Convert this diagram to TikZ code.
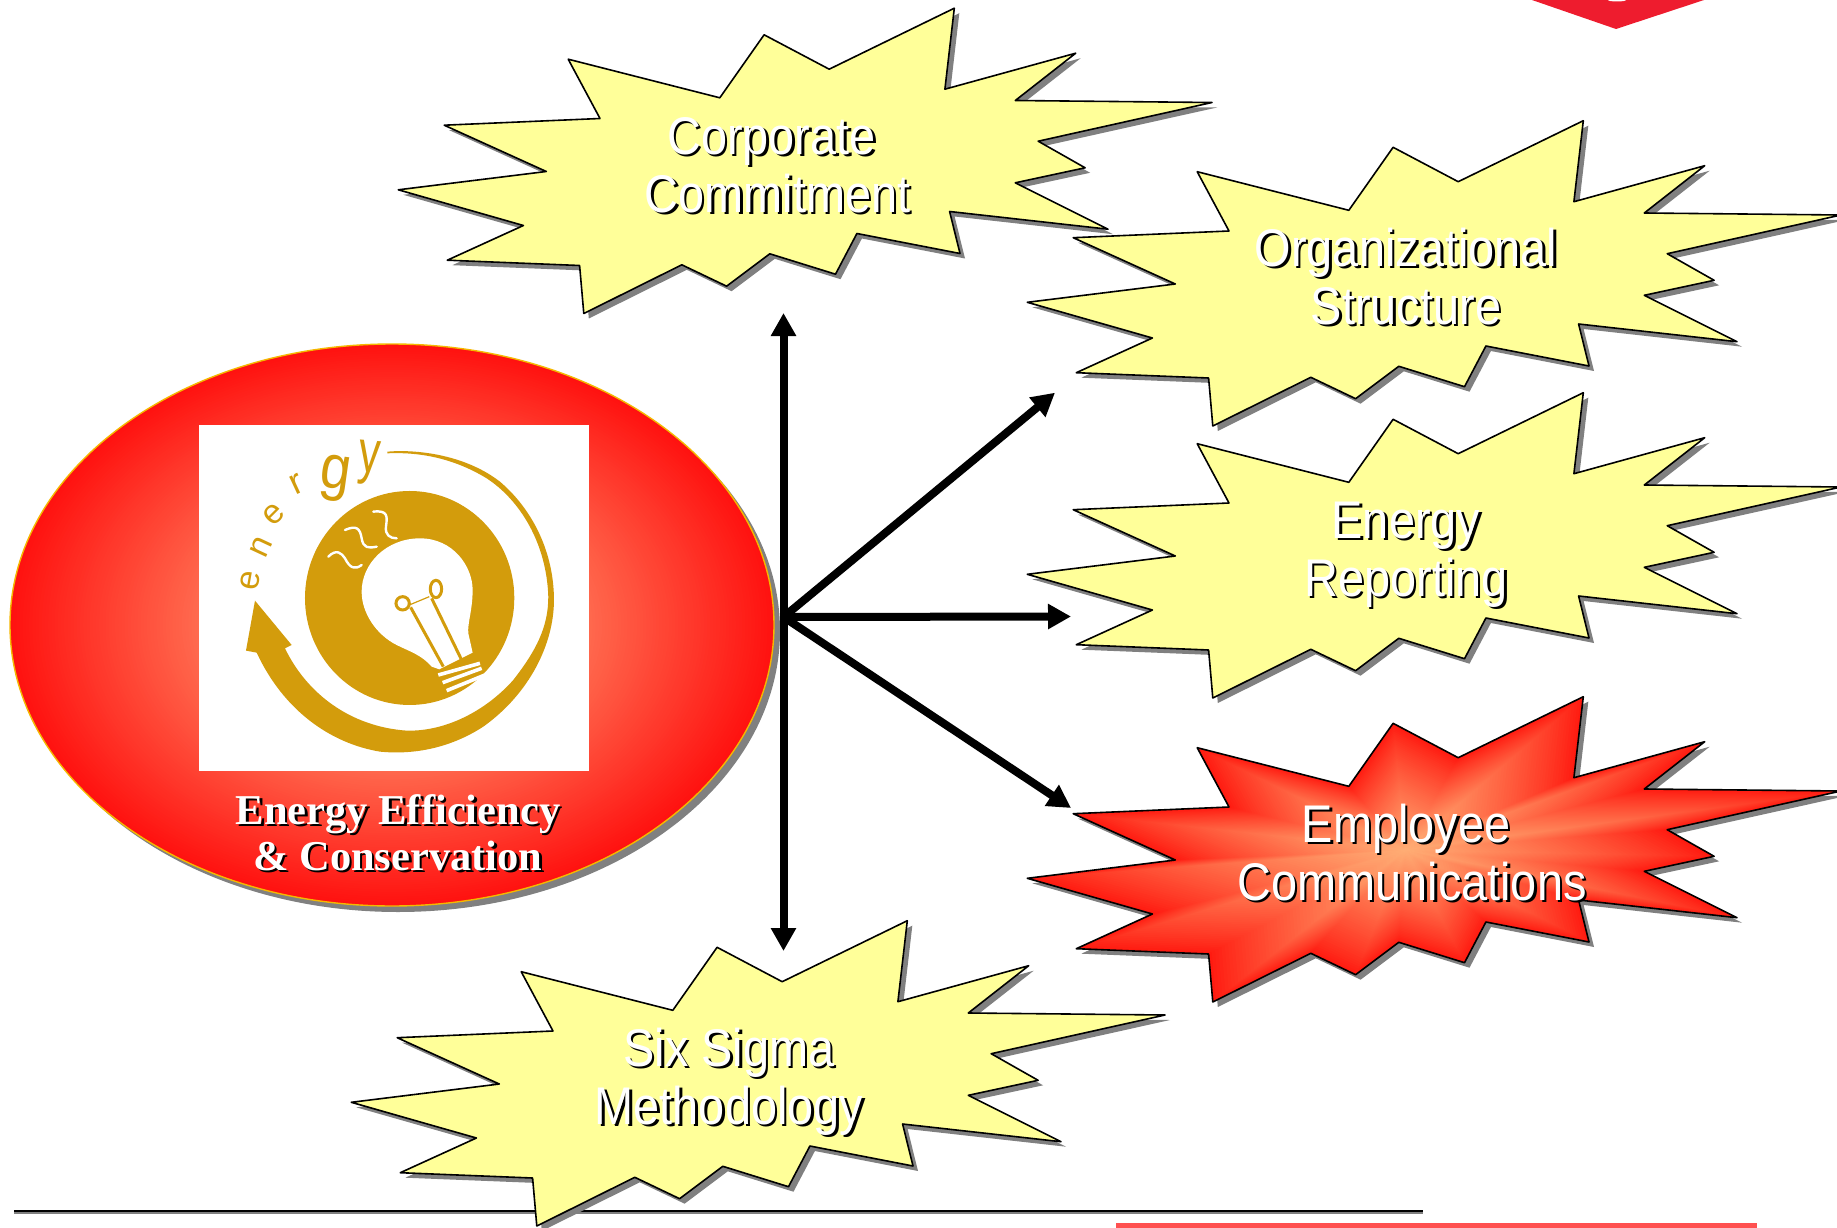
\documentclass[tikz,border=0pt]{standalone}
\usepackage{fontspec}
\setmainfont{Liberation Sans}
\newfontfamily\burstfont[FakeStretch=0.885]{Liberation Sans}
\newfontfamily\titlefont{Liberation Serif}
\newfontfamily\narrowfont[FakeStretch=0.72]{Liberation Sans}
\usetikzlibrary{arrows.meta}
\definecolor{gold}{HTML}{D39C0C}
\definecolor{burstyellow}{HTML}{FFFF99}
\definecolor{shadowgrey}{HTML}{808080}
\definecolor{hotcentre}{HTML}{FFAC74}
\definecolor{hotedge}{HTML}{FF1A10}
\definecolor{glowin}{HTML}{FF6C50}
\definecolor{glowout}{HTML}{FF1210}
\definecolor{ringgold}{HTML}{F5B800}
\definecolor{footred}{HTML}{FF5050}
\definecolor{topred}{HTML}{EE1C2E}
\newcommand\Sh[1]{\leavevmode\rlap{\kern2.5pt\raisebox{-2pt}{\color{black}#1}}#1}
\newcommand\burstoutline{(1583.3,120.7) -- (1573.9,201.7) -- (1704.7,165.7) -- (1644.3,213) -- (1841,215) -- (1667.2,253.7) -- (1714.1,280.3) -- (1644.3,295.3) -- (1737,341.7) -- (1578.6,324) -- (1589,366) -- (1485.9,346) -- (1464.5,386.7) -- (1398.8,366.3) -- (1355.6,398.7) -- (1310.8,377.3) -- (1212.8,426) -- (1208.6,378) -- (1076.3,372.7) -- (1152.4,338) -- (1027.3,302.3) -- (1175.3,284) -- (1073.2,237.7) -- (1229,231) -- (1197.2,171.7) -- (1348.8,210.3) -- (1393.1,147.3) -- (1458.2,181.7) -- cycle}
\tikzset{
  burstline/.style={draw=black,line width=1.6pt,line join=round},
  bursttext/.style={text=white,align=center,anchor=base,inner sep=0pt,font=\burstfont\fontsize{53}{58}\selectfont},
  titletext/.style={text=white,align=center,anchor=base,inner sep=0pt,font=\titlefont\bfseries\fontsize{42.5}{46.5}\selectfont},
  linkarrow/.style={line width=8pt,black,-{Triangle[length=23pt,width=24pt]}},
  logoletter/.style={text=gold,inner sep=0pt},
  heatline/.style={white,line width=2.4pt,line cap=round,line join=round},
  filament/.style={gold,line width=3pt},
  capring/.style={white,line width=3.6pt},
}
\begin{document}
\begin{tikzpicture}[x=1pt,y=-1pt]
\useasboundingbox (0,0) rectangle (1837,1228);
\fill[white] (0,0) rectangle (1837,1228);
% page furniture
\fill[shadowgrey] (14,1212) rectangle (1423,1214);
\fill[black] (14,1210) rectangle (1423,1212);
\fill[footred] (1116,1223) rectangle (1757,1228);
\fill[topred] (1532,0) -- (1616,29) -- (1704,0) -- cycle;
\fill[white] (1617,0) ellipse [x radius=9, y radius=1.5];
% central ellipse
\fill[shadowgrey] (398,631) ellipse [x radius=382, y radius=281];
\foreach \i in {0,...,60}{
  \pgfmathsetmacro\sc{1-0.5*\i/60}
  \pgfmathsetmacro\pc{100*\i/60}
  \fill[glowin!\pc!glowout] (392,625) ellipse [x radius=382*\sc, y radius=281*\sc];
}
\draw[ringgold,line width=1.4pt] (392,625) ellipse [x radius=382, y radius=281];
% logo
\fill[white] (199,425) rectangle (589,771);
\begin{scope}[shift={(180,410)},x=0.3333pt,y=-0.3333pt]
  \fill[gold] (689,564) ellipse [x radius=314, y radius=321];
  % swoosh
  \fill[gold] (622,125) .. controls (700,118) and (850,130) .. (960,215) .. controls (1060,300) and (1122,430) .. (1122,570)
     .. controls (1122,700) and (1050,850) .. (910,950) .. controls (810,1015) and (700,1035) .. (600,1025)
     .. controls (450,1000) and (310,900) .. (230,728) -- (198,722) -- (225,572) -- (335,705) -- (315,715)
     .. controls (380,850) and (510,950) .. (680,962) .. controls (800,965) and (920,900) .. (1000,810)
     .. controls (1070,720) and (1105,650) .. (1105,560) .. controls (1100,400) and (1020,270) .. (920,205)
     .. controls (830,150) and (730,125) .. (622,130) -- cycle;
  % bulb
  \fill[white] (720,385) .. controls (820,385) and (878,470) .. (878,540) .. controls (878,600) and (862,640) .. (865,670)
     -- (878,728) -- (778,778) -- (755,770) .. controls (725,735) and (690,725) .. (650,705)
     .. controls (590,675) and (545,610) .. (545,545) .. controls (545,460) and (620,385) .. (720,385) -- cycle;
  \draw[gold,line width=3.6pt] (785,782) -- (885,745);
  \draw[capring] (775,795) -- (900,760);
  \draw[capring] (788,818) -- (905,775);
  \draw[capring] (800,842) -- (915,795);
  % filament
  \draw[filament] (692,592) -- (790,770);
  \draw[filament] (755,565) -- (845,750);
  \draw[filament] (668,580) circle [radius=20];
  \draw[filament] (768,537) ellipse [x radius=17, y radius=26];
  \draw[gold,line width=1.2pt] (688,585) -- (748,560);
  % heat
  \draw[heatline] (445,440) .. controls (470,415) and (485,430) .. (495,445) .. controls (510,475) and (525,480) .. (545,465);
  \draw[heatline] (495,360) .. controls (530,345) and (540,355) .. (545,385) .. controls (550,415) and (565,415) .. (590,410);
  \draw[heatline] (580,305) .. controls (625,300) and (622,320) .. (618,350) .. controls (615,375) and (630,385) .. (650,385);
  % letters
  \node[logoletter,rotate=80,font=\fontsize{34}{34}\selectfont] (l1) at (210,512) {e};
  \node[logoletter,rotate=65,font=\fontsize{34}{34}\selectfont] (l2) at (243,410) {n};
  \node[logoletter,rotate=45,font=\fontsize{34}{34}\selectfont] (l3) at (282,312) {e};
  \node[logoletter,rotate=25,font=\fontsize{36}{36}\selectfont] (l4) at (352,222) {r};
  \node[logoletter,rotate=-8,font=\burstfont\fontsize{62}{62}\selectfont] (l5) at (465,205) {g};
  \node[logoletter,rotate=-5,font=\narrowfont\fontsize{60}{60}\selectfont] (l6) at (568,160) {y};
\end{scope}
\node[titletext] (title) at (398,870.5) {\Sh{Energy Efficiency}\\\Sh{\& Conservation}};
% bursts
\begin{scope}[shift={(-629,-112.5)}]
  \fill[shadowgrey,shift={(5,5)}] \burstoutline;
  \path[burstline,fill=burstyellow] \burstoutline;
\end{scope}
\begin{scope}[shift={(0,0)}]
  \fill[shadowgrey,shift={(5,5)}] \burstoutline;
  \path[burstline,fill=burstyellow] \burstoutline;
\end{scope}
\begin{scope}[shift={(0,272)}]
  \fill[shadowgrey,shift={(5,5)}] \burstoutline;
  \path[burstline,fill=burstyellow] \burstoutline;
\end{scope}
\begin{scope}[shift={(0,576)}]
  \fill[shadowgrey,shift={(5,5)}] \burstoutline;
  \foreach \i in {0,...,60}{
    \pgfmathsetmacro\sc{1-\i/61}
    \pgfmathsetmacro\pc{100*(\i/60)^0.85}
    \fill[hotcentre!\pc!hotedge,shift={(1405.6,274)},scale=\sc,shift={(-1405.6,-274)}] \burstoutline;
  }
  \path[burstline] \burstoutline;
\end{scope}
\begin{scope}[shift={(-676,800)}]
  \fill[shadowgrey,shift={(5,5)}] \burstoutline;
  \path[burstline,fill=burstyellow] \burstoutline;
\end{scope}
% burst labels
\node[bursttext] (corp) at (771.5,212) {\Sh{Corporate}\\\hspace*{12pt}\Sh{Commitment}};
\node[bursttext] (org) at (1406,324.5) {\Sh{Organizational}\\\Sh{Structure}};
\node[bursttext] (rep) at (1406,596.5) {\Sh{Energy}\\\Sh{Reporting}};
\node[bursttext] (emp) at (1406,900.5) {\Sh{Employee}\\\hspace*{12pt}\Sh{Communications}};
\node[bursttext] (six) at (729,1124.5) {\Sh{Six Sigma}\\\Sh{Methodology}};
% connectors
\coordinate (hub) at (783.5,617);
\coordinate (topend) at (783.5,313);
\coordinate (bottomend) at (783.5,951);
\coordinate (orgend) at (1055,392.7);
\coordinate (repend) at (1071,616.5);
\coordinate (empend) at (1071,808);
\draw[linkarrow,{Triangle[length=23pt,width=24pt]}-{Triangle[length=23pt,width=24pt]}] (topend) -- (bottomend);
\draw[linkarrow] (hub) -- (orgend);
\draw[linkarrow] (hub) -- (repend);
\draw[linkarrow] (hub) -- (empend);
\end{tikzpicture}
\end{document}
